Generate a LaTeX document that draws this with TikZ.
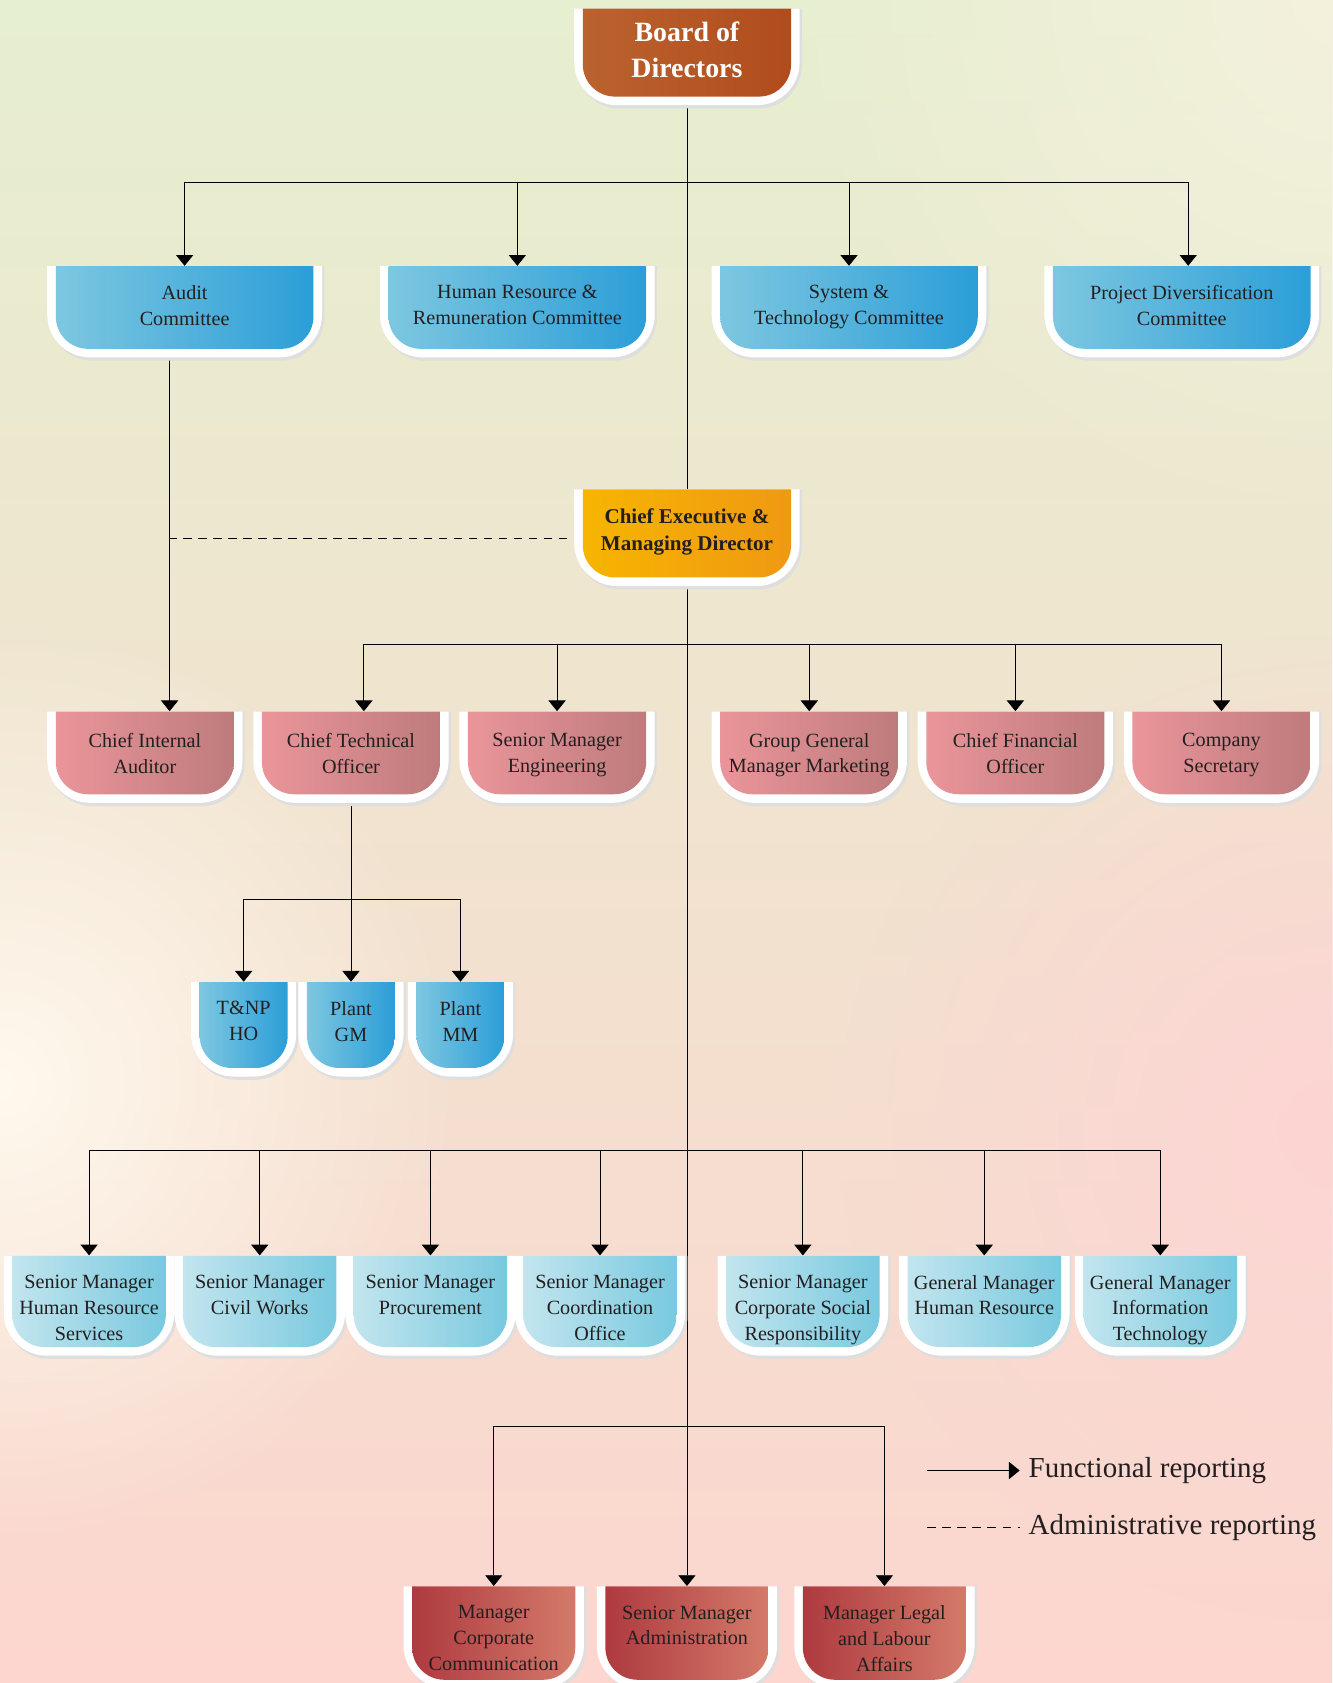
\documentclass[tikz,border=0pt]{standalone}
\usepackage{fontspec}
\setmainfont{Liberation Serif}
\usetikzlibrary{arrows.meta, calc, fadings, positioning}

\definecolor{bgtop}{HTML}{E6EFCF}
\definecolor{bgmid}{HTML}{F7EBDA}
\definecolor{bgbot}{HTML}{FCD6CF}
\definecolor{bgcream}{HTML}{FFF9EE}
\definecolor{bgtopr}{HTML}{F4F1DD}
\definecolor{bgpink}{HTML}{FDD5D4}
\definecolor{boardL}{HTML}{BA632F}
\definecolor{boardR}{HTML}{B14C1C}
\definecolor{blueL}{HTML}{7DC7E0}
\definecolor{blueR}{HTML}{2B9ED8}
\definecolor{orangeL}{HTML}{F7B500}
\definecolor{orangeR}{HTML}{EF9913}
\definecolor{pinkL}{HTML}{EA959A}
\definecolor{pinkR}{HTML}{BE7B7C}
\definecolor{paleL}{HTML}{C2E5EE}
\definecolor{paleR}{HTML}{79C9DF}
\definecolor{redL}{HTML}{AE3A3F}
\definecolor{redR}{HTML}{D47A6A}
\definecolor{ink}{HTML}{231F20}

\tikzfading[name=glow, inner color=transparent!0, outer color=transparent!100]

\pgfdeclarelayer{back}
\pgfdeclarelayer{lines}
\pgfsetlayers{back,lines,main}

\tikzset{
  boxarea/.style={inner sep=0pt},
  boxtext/.style={inner sep=0pt, anchor=north, align=center, text=ink,
    font=\fontsize{9.4}{12}\selectfont},
  board fill/.style={left color=boardL, right color=boardR},
  board text/.style={text=white, yshift=3pt, font=\fontsize{13}{17}\selectfont\bfseries},
  blue fill/.style={left color=blueL, right color=blueR},
  blue text/.style={},
  orange fill/.style={left color=orangeL, right color=orangeR},
  orange text/.style={font=\fontsize{9.8}{12.5}\selectfont\bfseries},
  pink fill/.style={left color=pinkL, right color=pinkR},
  pink text/.style={yshift=-1pt},
  pale fill/.style={left color=paleL, right color=paleR},
  pale text/.style={},
  red fill/.style={left color=redL, right color=redR},
  red text/.style={},
  legend/.style={inner sep=0pt, text=ink, font=\fontsize{13.5}{16}\selectfont},
  adminline/.style={dash pattern=on 4pt off 3pt}
}

% #1 nombre, #2 x centro, #3 y arriba, #4 ancho, #5 alto, #6 color, #7 texto
\newcommand{\orgbox}[7]{%
  \fill[black!13, rounded corners=20pt] (#2-#4/2-6,#3) -- (#2-#4/2-6,#3+#5+11)
    -- (#2+#4/2+10,#3+#5+11) -- (#2+#4/2+10,#3);
  \fill[white, rounded corners=20pt] (#2-#4/2-8,#3) -- (#2-#4/2-8,#3+#5+8)
    -- (#2+#4/2+8,#3+#5+8) -- (#2+#4/2+8,#3);
  \shade[#6 fill, rounded corners=15pt] (#2-#4/2,#3) -- (#2-#4/2,#3+#5)
    -- (#2+#4/2,#3+#5) -- (#2+#4/2,#3);
  \node[boxarea, minimum width=#4*0.5pt, minimum height=#5*0.5pt]
    (#1) at (#2,#3+#5/2) {};
  \node[boxtext, #6 text] (#1-l) at ([yshift=-9pt]#1.north) {#7};
}

\begin{document}
\begin{tikzpicture}[x=0.5pt, y=-0.5pt, >={Triangle[width=8pt,length=5pt]},
  line width=0.6pt]
  \useasboundingbox (0,0) rectangle (1241,1568);
  % fondo
  \begin{pgfonlayer}{back}
    \shade[top color=bgtop, middle color=bgmid, bottom color=bgbot] (0,0) rectangle (1241,1568);
    \fill[bgtopr, path fading=glow] (1241,0) circle (520);
    \fill[bgcream, path fading=glow] (0,1010) circle (430);
    \fill[bgpink, path fading=glow] (1241,1050) circle (460);
  \end{pgfonlayer}

  % cabeza
  \orgbox{board}{640}{8}{194}{82}{board}{Board of\\Directors}
  % comites
  \orgbox{audit}{172}{248}{240}{77}{blue}{Audit\\Committee}
  \orgbox{hrrc}{482}{248}{240}{77}{blue}{Human Resource \&\\Remuneration Committee}
  \orgbox{stc}{791}{248}{240}{77}{blue}{System \&\\Technology Committee}
  \orgbox{pdc}{1101}{248}{240}{77}{blue}{Project Diversification\\Committee}
  % direccion
  \orgbox{ceo}{640}{456}{194}{82}{orange}{Chief Executive \&\\Managing Director}
  % jefes
  \orgbox{cia}{135}{663}{166}{77}{pink}{Chief Internal\\Auditor}
  \orgbox{cto}{327}{663}{166}{77}{pink}{Chief Technical\\Officer}
  \orgbox{sme}{519}{663}{166}{77}{pink}{Senior Manager\\Engineering}
  \orgbox{ggm}{754}{663}{166}{77}{pink}{Group General\\Manager Marketing}
  \orgbox{cfo}{946}{663}{166}{77}{pink}{Chief Financial\\Officer}
  \orgbox{cs}{1138}{663}{166}{77}{pink}{Company\\Secretary}
  % planta
  \orgbox{tnp}{227}{915}{82}{80}{blue}{T\&NP\\HO}
  \orgbox{plantgm}{327}{915}{82}{80}{blue}{Plant\\GM}
  \orgbox{plantmm}{429}{915}{82}{80}{blue}{Plant\\MM}
  % gerentes
  \orgbox{smhr}{83}{1170}{143}{85}{pale}{Senior Manager\\Human Resource\\Services}
  \orgbox{smcw}{242}{1170}{143}{85}{pale}{Senior Manager\\Civil Works}
  \orgbox{smpr}{401}{1170}{143}{85}{pale}{Senior Manager\\Procurement}
  \orgbox{smco}{559}{1170}{143}{85}{pale}{Senior Manager\\Coordination\\Office}
  \orgbox{smcsr}{748}{1170}{143}{85}{pale}{Senior Manager\\Corporate Social\\Responsibility}
  \orgbox{gmhr}{917}{1170}{143}{85}{pale}{General Manager\\Human Resource}
  \orgbox{gmit}{1081}{1170}{143}{85}{pale}{General Manager\\Information\\Technology}
  % fila inferior
  \orgbox{mcc}{460}{1478}{152}{87}{red}{Manager\\Corporate\\Communication}
  \orgbox{sma}{640}{1478}{152}{87}{red}{Senior Manager\\Administration}
  \orgbox{mlla}{824}{1478}{152}{87}{red}{Manager Legal\\and Labour\\Affairs}

  % conexiones
  \begin{pgfonlayer}{lines}
    \coordinate (bus1) at (640,170);
    \coordinate (bus2) at (640,600);
    \coordinate (bus3) at (327,838);
    \coordinate (bus4) at (640,1072);
    \coordinate (bus5) at (640,1329);
    \coordinate (aud) at ([xshift=-7pt]audit.south);
    \coordinate (ceol) at ([yshift=-2.5pt]ceo.west);
    \draw (board) -- (ceo);
    \draw[->] (ceo) -- (sma);
    \draw[->] (bus1) -| (audit);
    \draw[->] (bus1) -| (hrrc);
    \draw[->] (bus1) -| (stc);
    \draw[->] (bus1) -| ([xshift=3pt]pdc.north);
    \draw[->] (aud) -- (aud |- cia.north);
    \draw[adminline] (ceol) -- (ceol -| aud);
    \draw[->] (bus2) -| ([xshift=6pt]cto.north);
    \draw[->] (bus2) -| (sme);
    \draw[->] (bus2) -| (ggm);
    \draw[->] (bus2) -| (cfo);
    \draw[->] (bus2) -| (cs);
    \draw (cto) -- (bus3);
    \draw[->] (bus3) -| (tnp);
    \draw[->] (bus3) -- (plantgm);
    \draw[->] (bus3) -| (plantmm);
    \foreach \n in {smhr, smcw, smpr, smco, smcsr, gmhr, gmit}
      \draw[->] (bus4) -| (\n);
    \draw[->] (bus5) -| (mcc);
    \draw[->] (bus5) -| (mlla);
  \end{pgfonlayer}

  % leyenda
  \coordinate (fa) at (864,1370);
  \coordinate (fb) at (950,1370);
  \coordinate (da) at (864,1423);
  \coordinate (db) at (950,1423);
  \draw[->] (fa) -- (fb);
  \draw[adminline] (da) -- (db);
  \node[legend, right=4pt of fb] (funclab) {Functional reporting};
  \node[legend, right=4pt of db] (admlab) {Administrative reporting};
\end{tikzpicture}
\end{document}
